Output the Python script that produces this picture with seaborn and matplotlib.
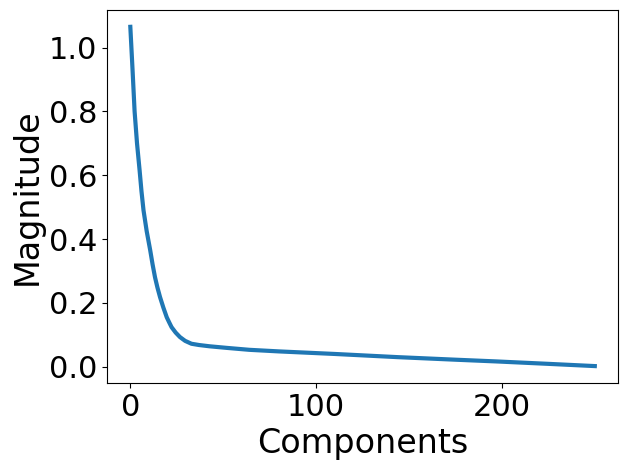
import numpy as np
import pandas as pd
import matplotlib
matplotlib.use("Agg")
import matplotlib.pyplot as plt
from matplotlib.ticker import MultipleLocator
import seaborn as sns

# values
components = [0, 1.2, 2.3, 3.6, 5.0, 6.0, 7.1, 8.8, 10.7, 12.0, 13.3, 14.6, 16.0, 17.8, 19.6,
              21.0, 22.2, 24.4, 26.7, 29.5, 32.9, 37.0, 42.7, 52, 64, 80, 110, 144, 175,
              197, 225, 250]
magnitude = [1.065, 0.93, 0.80, 0.70, 0.615, 0.55, 0.49, 0.425, 0.365, 0.32, 0.28, 0.248,
             0.218, 0.185, 0.155, 0.138, 0.124, 0.107, 0.093, 0.081, 0.072, 0.068, 0.064,
             0.059, 0.053, 0.048, 0.040, 0.030, 0.022, 0.0166, 0.009, 0.002]

df = pd.DataFrame({"Components": components, "Magnitude": magnitude})

fig, ax = plt.subplots(figsize=(6.3, 4.7), dpi=100)
sns.lineplot(data=df, x="Components", y="Magnitude", ax=ax, color="#1f77b4", linewidth=3)

ax.yaxis.set_major_locator(MultipleLocator(0.2))
ax.set_xlabel("Components", fontsize=24)
ax.set_ylabel("Magnitude", fontsize=24)
ax.tick_params(labelsize=22)

fig.subplots_adjust(left=0.170, right=0.981, top=0.979, bottom=0.185)
plt.savefig("out.png", dpi=100)
